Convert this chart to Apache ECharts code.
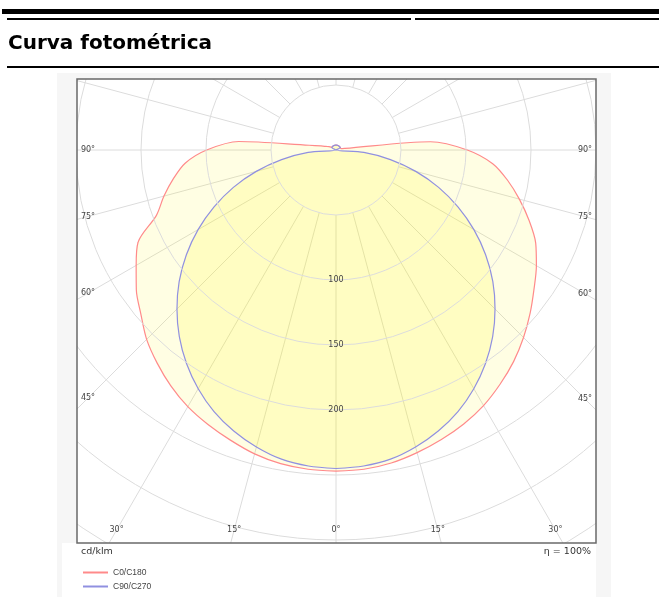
<!DOCTYPE html>
<html><head><meta charset="utf-8">
<script src="https://cdn.jsdelivr.net/npm/echarts@6/dist/echarts.min.js"></script>
<style>html,body{margin:0;padding:0;background:#fff}#c{width:659px;height:597px}</style>
</head><body><div id="c"></div>
<script>
// ---- data (cd/klm) ----
const angles = [0,5,10,15,20,25,30,35,40,45,50,55,60,65,70,75,80,85,90,95,100,105,110,115,120,125,130,135,140,145,150,155,160,165,170,175,180];
const c0   = [247,246.5,244.5,241,237,232.5,227,220,212.5,204,195,186,178,169.5,158,146,134,121,101,73,7,4,3.8,3.8,3.8,3.8,3.8,3.8,3.8,3.8,3.8,3.8,3.8,3.8,3.8,3.8,3.8];
const c180 = [247,246.5,245,242,237.5,233,228,221.5,214,206,196,187.5,177.5,168,147,137,127,116.5,99.5,75,21,12,8,6,4.5,3.8,3.8,3.8,3.8,3.8,3.8,3.8,3.8,3.8,3.8,3.8,3.8];
const c90  = [245,244,241.5,236.5,230,222,212,200.5,187.5,173,157.5,140.5,122.5,103.5,84,63.5,42.5,21.5,0,0,0,0,0,0,3.8,3.8,3.8,3.8,3.8,3.8,3.8,3.8,3.8,3.8,3.8,3.8,3.8];
const c270 = [245,244,241.5,236.5,230,222,212,200.5,187.5,173,157.5,140.5,122.5,103.5,84,63.5,42.5,21.5,0,0,0,0,0,0,3.8,3.8,3.8,3.8,3.8,3.8,3.8,3.8,3.8,3.8,3.8,3.8,3.8];
const seriesNames = ['C0/C180','C90/C270'];
const radiusTickLabels = [100,150,200];
const sideAngleLabels = [90,75,60,45];
const bottomAngleLabels = [30,15,0];
const unitText = 'cd/klm';
const effText = 'η = 100%';
const titleText = 'Curva fotométrica';

// ---- layout ----
const CX = 336, CY = 150, PX = 1.3, RMAX = 450;
const BOX = {x:77, y:79, w:519, h:464};

function halfPlane(left, right){
  const a = angles.map((ang,i)=>[left[i], ang]);
  const b = angles.slice().reverse().map((ang,k)=>{const i = angles.length-1-k; return [right[i], 360-ang];});
  return a.concat(b);
}
const redData = halfPlane(c180, c0);
const blueData = halfPlane(c270, c90);

const F = '"DejaVu Sans", sans-serif';
const els = [];
function rect(x,y,w,h,fill,z){els.push({type:'rect',silent:true,z:z||100,shape:{x,y,width:w,height:h},style:{fill}});}
function text(t,x,y,font,fill,align,valign){els.push({type:'text',silent:true,z:130,x,y,style:{text:t,font,fill,align,textAlign:align,verticalAlign:valign,textVerticalAlign:valign}});}
// masks
const GRAY = '#f6f6f6';
rect(0,0,659,73,'#fff');
rect(0,73,57,524,'#fff');
rect(611,73,48,524,'#fff');
rect(57,73,554,6,GRAY);
rect(57,79,5,518,GRAY);
rect(62,79,15,464,GRAY);
rect(596,79,15,518,GRAY);
rect(62,543,534,54,'#fff');
els.push({type:'rect',silent:true,z:110,shape:{x:BOX.x,y:BOX.y,width:BOX.w,height:BOX.h},style:{fill:'none',stroke:'#6a6a6a',lineWidth:1.5}});
// header
rect(2,9,657,5,'#000',120);
rect(7,18,404,2,'#000',120);
rect(415,18,244,2,'#000',120);
rect(7,66,652,2,'#000',120);
text(titleText,8,44,'bold 20px "DejaVu Sans"','#000','left','middle');
// angle labels where the radial lines meet the box
const lblFont = '8px ' + F;
sideAngleLabels.forEach(a=>{
  const r = a*Math.PI/180;
  const dxL = CX-(BOX.x+11), dxR = (BOX.x+BOX.w-11)-CX;
  text(a+'°', BOX.x+11, CY + dxL*Math.cos(r)/Math.sin(r), lblFont,'#444','center','middle');
  text(a+'°', BOX.x+BOX.w-11, CY + dxR*Math.cos(r)/Math.sin(r), lblFont,'#444','center','middle');
});
bottomAngleLabels.forEach(a=>{
  const r = a*Math.PI/180, yy = BOX.y+BOX.h-13, dy = yy-CY;
  text(a+'°', CX - dy*Math.tan(r), yy, lblFont,'#444','center','middle');
  if (a!==0) text(a+'°', CX + dy*Math.tan(r), yy, lblFont,'#444','center','middle');
});
text(unitText, 81, 552, '9.5px '+F, '#333','left','middle');
text(effText, 591, 552, '9.5px '+F, '#333','right','middle');

const chart = echarts.init(document.getElementById('c'));
chart.setOption({
  animation:false,
  polar:[{center:[CX,CY],radius:[0,RMAX*PX]},{center:[CX,CY],radius:[65,RMAX*PX]}],
  angleAxis:[
    {polarIndex:0,type:'value',min:0,max:360,startAngle:270,clockwise:true,axisLine:{show:false},axisTick:{show:false},axisLabel:{show:false},splitLine:{show:false}},
    {polarIndex:1,type:'value',min:0,max:360,interval:15,startAngle:270,clockwise:true,axisLine:{show:false},axisTick:{show:false},axisLabel:{show:false},splitLine:{show:true,lineStyle:{color:'#dcdcdc',width:1}}}
  ],
  radiusAxis:[
    {polarIndex:0,type:'value',min:0,max:RMAX,interval:50,z:10,axisLine:{show:false},axisTick:{show:false},
     splitLine:{show:true,lineStyle:{color:'#dcdcdc',width:1}},
     axisLabel:{margin:0,align:'center',verticalAlign:'middle',fontSize:8,color:'#444',fontFamily:'DejaVu Sans',
       formatter:v=>radiusTickLabels.includes(v)?String(v):''}},
    {polarIndex:1,type:'value',min:0,max:1,axisLine:{show:false},axisTick:{show:false},axisLabel:{show:false},splitLine:{show:false}}
  ],
  legend:{orient:'vertical',left:78,top:563,itemWidth:25,itemHeight:2,icon:'rect',itemGap:5,z:200,
    textStyle:{fontSize:8.5,color:'#444',fontFamily:'Liberation Sans'},data:seriesNames},
  series:[
    {type:'line',name:seriesNames[0],coordinateSystem:'polar',polarIndex:0,data:redData,symbol:'none',showSymbol:false,smooth:0.3,
     color:'#ff8a8a',lineStyle:{width:1.2,color:'#ff8a8a'},areaStyle:{color:'rgba(255,245,0,0.11)',opacity:1},z:3},
    {type:'line',name:seriesNames[1],coordinateSystem:'polar',polarIndex:0,data:blueData,symbol:'none',showSymbol:false,smooth:0.3,
     color:'#9090e0',lineStyle:{width:1.2,color:'#9090e0'},areaStyle:{color:'rgba(255,245,0,0.15)',opacity:1},z:4}
  ],
  graphic:{elements:els}
});
</script></body></html>
